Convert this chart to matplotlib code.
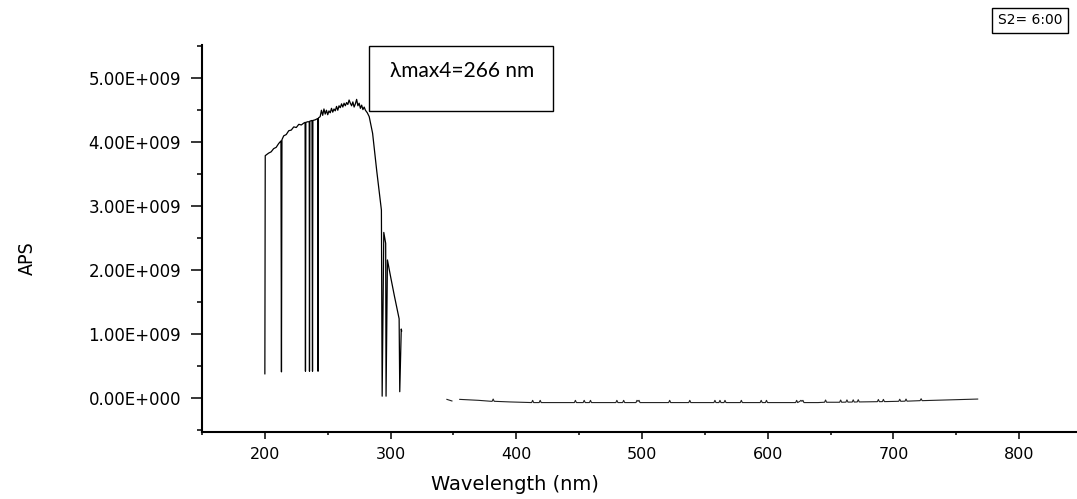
import matplotlib
matplotlib.use("Agg")
import matplotlib.pyplot as plt
from matplotlib.ticker import MultipleLocator, FixedLocator, FixedFormatter
from matplotlib.patches import Rectangle
from matplotlib import font_manager

# ---------------- data (APS values in units of 1e9) ----------------
uv_wl = [200.0, 200.3, 203, 205, 207, 209, 211, 212.8, 213.2, 213.6, 215, 217, 219, 221,
         223, 225, 227, 229, 231, 232.0, 232.3, 232.6, 234, 235.3, 235.5, 235.8, 237.5,
         237.9, 238.2, 240, 242.0, 242.3, 242.6, 244, 245, 246, 247, 248, 249, 250, 251,
         252, 253, 254, 255, 256, 257, 258, 259, 260, 261, 262, 263, 264, 265, 266, 267,
         268, 269, 270, 271, 272, 273, 274, 275, 276, 277, 278, 279, 280, 281.5, 283,
         285.7, 289, 292.7, 293.3, 294.6, 296.1, 296.4, 297.5, 300, 303, 306.8, 307.3,
         308.5, 308.8]
uv_aps = [0.38, 3.79, 3.83, 3.85, 3.90, 3.92, 3.98, 4.02, 0.41, 4.04, 4.10, 4.12, 4.18, 4.19,
          4.24, 4.23, 4.28, 4.27, 4.30, 4.31, 0.42, 4.31, 4.32, 4.32, 0.42, 4.33, 4.34,
          0.42, 4.34, 4.35, 4.37, 0.42, 4.38, 4.40, 4.50, 4.42, 4.52, 4.44, 4.50, 4.43, 4.49,
          4.46, 4.53, 4.47, 4.52, 4.49, 4.56, 4.50, 4.57, 4.54, 4.60, 4.55, 4.61, 4.57, 4.62,
          4.59, 4.66, 4.61, 4.57, 4.63, 4.55, 4.60, 4.67, 4.57, 4.61, 4.53, 4.58, 4.51, 4.55,
          4.50, 4.46, 4.40, 4.14, 3.55, 2.94, 0.03, 2.59, 2.42, 0.03, 2.16, 1.90, 1.60, 1.24,
          0.10, 1.08, 1.05]

dash_wl = [344.8, 348.8]
dash_aps = [-0.02, -0.045]

base_wl = [355, 370, 380, 380.8, 381.6, 382.4, 395,
           412.2, 413, 413.8, 418.2, 419, 419.8,
           446.2, 447, 447.8, 453.2, 454, 454.8, 458.2, 459, 459.8,
           479.2, 480, 480.8, 484.6, 485.4, 486.2, 495.2, 496, 496.8, 497.6, 498.4,
           521.2, 522, 522.8, 537.2, 538, 538.8,
           557.2, 558, 558.8, 561.2, 562, 562.8, 565.2, 566, 566.8, 578.2, 579, 579.8,
           594.0, 594.8, 595.6, 598.2, 599, 599.8,
           622.2, 623, 623.8, 625.6, 626.4, 627.2, 628, 628.8, 640,
           645.2, 646, 646.8, 657.2, 658, 658.8, 662.2, 663, 663.8, 667.2, 668, 668.8,
           671.2, 672, 672.8, 687.2, 688, 688.8, 691.2, 692, 692.8,
           704.2, 705, 705.8, 709.2, 710, 710.8, 721.2, 722, 722.8, 767]
base_aps = [-0.02, -0.035, -0.05, -0.05, -0.015, -0.05, -0.06,
            -0.07, -0.035, -0.07, -0.07, -0.035, -0.07,
            -0.07, -0.035, -0.07, -0.07, -0.035, -0.07, -0.07, -0.035, -0.07,
            -0.07, -0.035, -0.07, -0.07, -0.035, -0.07, -0.07, -0.035, -0.05, -0.035, -0.07,
            -0.07, -0.035, -0.07, -0.07, -0.035, -0.07,
            -0.07, -0.035, -0.07, -0.07, -0.035, -0.07, -0.07, -0.035, -0.07, -0.07, -0.035, -0.07,
            -0.07, -0.035, -0.07, -0.07, -0.035, -0.07,
            -0.07, -0.035, -0.07, -0.05, -0.035, -0.05, -0.035, -0.07, -0.07,
            -0.065, -0.03, -0.065, -0.065, -0.03, -0.065, -0.063, -0.028, -0.063, -0.062, -0.027, -0.062,
            -0.06, -0.025, -0.06, -0.056, -0.022, -0.056, -0.055, -0.02, -0.055,
            -0.05, -0.018, -0.05, -0.048, -0.015, -0.048, -0.04, -0.01, -0.04, -0.015]

ytick_vals = [0, 1, 2, 3, 4, 5]
ytick_labels = ["0.00E+000", "1.00E+009", "2.00E+009", "3.00E+009", "4.00E+009", "5.00E+009"]
xtick_vals = [200, 300, 400, 500, 600, 700, 800]
xtick_labels = ["200", "300", "400", "500", "600", "700", "800"]

x_title = "Wavelength (nm)"
y_title = "APS"
annot_text = "λmax4=266 nm"
legend_text = "S2= 6:00"

SCALE = 1e9

# pick a narrow font for the y title if one exists
available = {f.name for f in font_manager.fontManager.ttflist}
narrow = [n for n in ("Liberation Sans Narrow", "DejaVu Sans Condensed") if n in available]
narrow_family = narrow + ["DejaVu Sans"]

# ---------------- figure ----------------
W, H = 1077, 499
fig = plt.figure(figsize=(W / 100, H / 100), dpi=100)
ax = fig.add_axes([202 / W, (H - 432) / H, (W - 202) / W, (432 - 45) / H])

ax.plot(uv_wl, [v * SCALE for v in uv_aps], color="black", lw=0.9)
ax.plot(dash_wl, [v * SCALE for v in dash_aps], color="#222222", lw=0.8)
ax.plot(base_wl, [v * SCALE for v in base_aps], color="#222222", lw=0.8)

ax.set_xlim(150, 846)
ax.set_ylim(-0.53 * SCALE, 5.52 * SCALE)

for s in ("top", "right"):
    ax.spines[s].set_visible(False)
for s in ("left", "bottom"):
    ax.spines[s].set_linewidth(1.5)

ax.yaxis.set_major_locator(FixedLocator([v * SCALE for v in ytick_vals]))
ax.yaxis.set_major_formatter(FixedFormatter(ytick_labels))
ax.yaxis.set_minor_locator(MultipleLocator(0.5 * SCALE))
ax.xaxis.set_major_locator(FixedLocator(xtick_vals))
ax.xaxis.set_major_formatter(FixedFormatter(xtick_labels))
ax.xaxis.set_minor_locator(MultipleLocator(50))

ax.tick_params(axis="y", which="major", length=8, width=1.1, pad=7, labelsize=12)
ax.tick_params(axis="y", which="minor", length=3.6, width=1.1)
ax.tick_params(axis="x", which="major", length=5, width=1.1, pad=5.5, labelsize=11.5)
ax.tick_params(axis="x", which="minor", length=2.5, width=1.1)
for lab in ax.get_xticklabels() + ax.get_yticklabels():
    lab.set_fontfamily("DejaVu Sans")

ax.set_xlabel(x_title, fontsize=14, family="DejaVu Sans")
ax.xaxis.set_label_coords((515 - 202) / (W - 202), (432 - 485) / (432 - 45))
ax.xaxis.label.set_va("center")
ax.set_ylabel(y_title, fontsize=14, family=narrow_family, fontstretch="condensed")
ax.yaxis.set_label_coords((27 - 202) / (W - 202), (432 - 258) / (432 - 45))
ax.yaxis.label.set_va("center")

# annotation box
fig.patches.append(Rectangle((369 / W, (H - 111) / H), 184 / W, 65 / H,
                             transform=fig.transFigure, facecolor="white",
                             edgecolor="black", lw=1.0, zorder=5))
fig.text(390 / W, 1 - 71 / H, annot_text, fontsize=15, family=["Lato", "DejaVu Sans"],
         ha="left", va="center", zorder=6)

# legend-like box
fig.patches.append(Rectangle((992 / W, (H - 33) / H), 76 / W, 25 / H,
                             transform=fig.transFigure, facecolor="white",
                             edgecolor="black", lw=1.0, zorder=5))
fig.text(1030 / W, 1 - 20.5 / H, legend_text, fontsize=10, family="DejaVu Sans",
         ha="center", va="center", zorder=6)

fig.savefig("out.png", dpi=100)
